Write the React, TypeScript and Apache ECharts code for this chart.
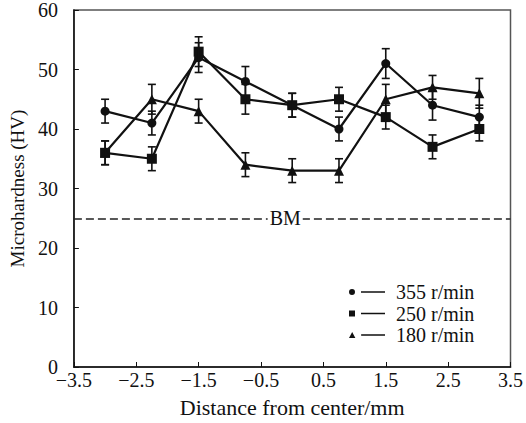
import React, { useEffect, useRef } from "react";
import * as echarts from "echarts";

const distances = [-3, -2.25, -1.5, -0.75, 0, 0.75, 1.5, 2.25, 3];
const hv355 = [43, 41, 52, 48, 44, 40, 51, 44, 42];
const hv250 = [36, 35, 53, 45, 44, 45, 42, 37, 40];
const hv180 = [36, 45, 43, 34, 33, 33, 45, 47, 46];
const err355 = [2, 2, 2.5, 2.5, 2, 2, 2.5, 2.5, 2];
const err250 = [2, 2, 2.5, 2.5, 2, 2, 2, 2, 2];
const err180 = [2, 2.5, 2, 2, 2, 2, 2.5, 2, 2.5];
const seriesNames = ["355 r/min", "250 r/min", "180 r/min"];
const bmValue = 25;
const bmLabel = "BM";

const FONT = "Liberation Serif, Times New Roman, serif";

const legendIcons = [
  "path://M0,4 a3,3 0 1,0 6,0 a3,3 0 1,0 -6,0 Z M12,3.2 h24 v1.6 h-24 Z",
  "path://M0,1 h6 v6 h-6 Z M12,3.2 h24 v1.6 h-24 Z",
  "path://M3,1 L6.2,7 L-0.2,7 Z M12,3.2 h24 v1.6 h-24 Z",
];

function pairs(vals: number[]) {
  return distances.map((d, i) => [d, vals[i]]);
}
function errData(vals: number[], errs: number[]) {
  return distances.map((d, i) => [d, vals[i] - errs[i], vals[i] + errs[i]]);
}

const errorRender = (params: any, api: any) => {
  const x = api.value(0);
  const lo = api.coord([x, api.value(1)]);
  const hi = api.coord([x, api.value(2)]);
  const w = 4;
  const style = { stroke: "#111", lineWidth: 1.6 };
  return {
    type: "group",
    children: [
      { type: "line", shape: { x1: lo[0], y1: lo[1], x2: hi[0], y2: hi[1] }, style },
      { type: "line", shape: { x1: lo[0] - w, y1: lo[1], x2: lo[0] + w, y2: lo[1] }, style },
      { type: "line", shape: { x1: hi[0] - w, y1: hi[1], x2: hi[0] + w, y2: hi[1] }, style },
    ],
  };
};

export default function App() {
  const ref = useRef<HTMLDivElement>(null);
  useEffect(() => {
    if (!ref.current) return;
    const chart = echarts.init(ref.current, null, { renderer: "svg" });
    const lineBase = (name: string, data: number[][], symbol: string, size: number) => ({
      name,
      type: "line",
      data,
      symbol,
      symbolSize: size,
      itemStyle: { color: "#111" },
      lineStyle: { color: "#111", width: 2.2 },
      z: 3,
    });
    chart.setOption({
      animation: false,
      backgroundColor: "#fff",
      grid: {
        left: 73,
        right: 14,
        top: 10,
        bottom: 56,
        show: true,
        borderColor: "#555",
        borderWidth: 1.5,
      },
      legend: {
        orient: "vertical",
        left: 349,
        top: 282,
        padding: 0,
        itemWidth: 36,
        itemHeight: 8,
        itemGap: 1.5,
        textStyle: {
          fontFamily: FONT,
          fontSize: 20,
          lineHeight: 20,
          color: "#111",
          padding: [0, 0, 0, 6],
        },
        data: seriesNames.map((n, i) => ({ name: n, icon: legendIcons[i] })),
        itemStyle: { color: "#111" },
      },
      xAxis: {
        type: "value",
        min: -3.5,
        max: 3.5,
        interval: 1,
        name: "Distance from center/mm",
        nameLocation: "middle",
        nameGap: 29,
        nameTextStyle: { fontFamily: FONT, fontSize: 22, color: "#111" },
        axisLine: { show: true, onZero: false, lineStyle: { color: "#111", width: 1.5 } },
        axisTick: { show: true, inside: true, length: 5, lineStyle: { color: "#111" } },
        axisLabel: {
          fontFamily: FONT,
          fontSize: 20,
          color: "#111",
          margin: 3,
          formatter: (v: number) => (v < 0 ? "\u2212" + Math.abs(v).toFixed(1) : v.toFixed(1)),
        },
        splitLine: { show: false },
      },
      yAxis: {
        type: "value",
        min: 0,
        max: 60,
        interval: 10,
        name: "Microhardness (HV)",
        nameLocation: "middle",
        nameGap: 43,
        nameTextStyle: { fontFamily: FONT, fontSize: 19, color: "#111" },
        axisLine: { show: true, onZero: false, lineStyle: { color: "#111", width: 1.5 } },
        axisTick: { show: true, inside: true, length: 5, lineStyle: { color: "#111" } },
        axisLabel: { fontFamily: FONT, fontSize: 20, color: "#111", margin: 16 },
        splitLine: { show: false },
      },
      series: [
        {
          ...lineBase(seriesNames[0], pairs(hv355), "circle", 9),
          markLine: {
            silent: true,
            symbol: "none",
            lineStyle: { color: "#222", width: 1.5, type: [8, 4] },
            label: {
              show: true,
              position: "insideMiddle",
              formatter: bmLabel,
              fontFamily: FONT,
              fontSize: 20,
              color: "#111",
              backgroundColor: "#fff",
              padding: [0, 2],
              distance: 0,
              offset: [-7, 0],
            },
            data: [{ yAxis: bmValue }],
          },
        },
        lineBase(seriesNames[1], pairs(hv250), "rect", 10),
        lineBase(seriesNames[2], pairs(hv180), "triangle", 10),
        { type: "custom", renderItem: errorRender, data: errData(hv355, err355), z: 4 },
        { type: "custom", renderItem: errorRender, data: errData(hv250, err250), z: 4 },
        { type: "custom", renderItem: errorRender, data: errData(hv180, err180), z: 4 },
      ],
    });
    return () => chart.dispose();
  }, []);
  return (
    <div
      ref={ref}
      style={{ position: "absolute", left: 0, top: 0, width: 526, height: 423 }}
    />
  );
}
